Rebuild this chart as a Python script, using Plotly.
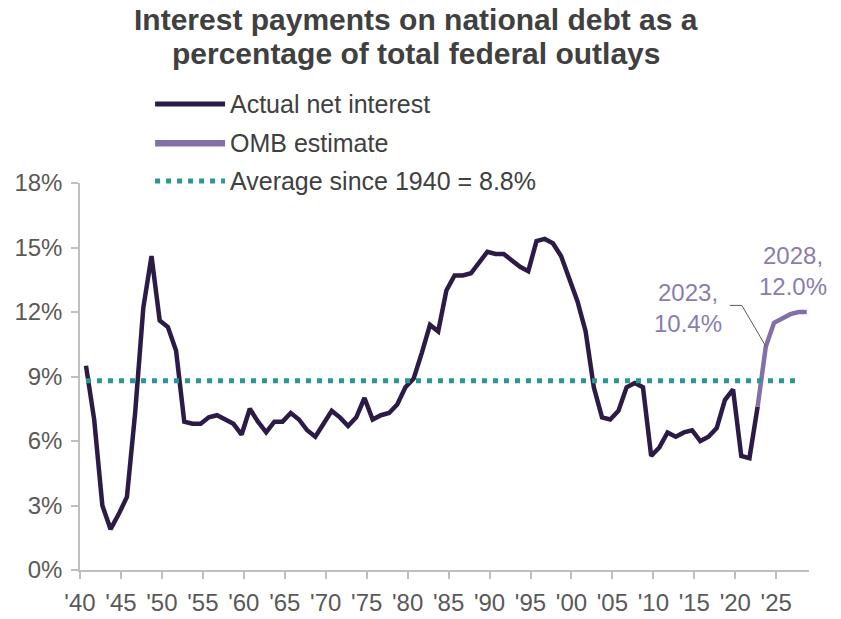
import plotly.graph_objects as go

# Net interest as a share of total federal outlays, fiscal years
actual_years = list(range(1940, 2023))
actual_values = [
    9.5, 7.0, 3.0, 1.9, 2.6, 3.4, 7.3, 12.2, 14.6, 11.6,   # 1940-49
    11.3, 10.2, 6.9, 6.8, 6.8, 7.1, 7.2, 7.0, 6.8, 6.3,    # 1950-59
    7.5, 6.9, 6.4, 6.9, 6.9, 7.3, 7.0, 6.5, 6.2, 6.8,      # 1960-69
    7.4, 7.1, 6.7, 7.1, 8.0, 7.0, 7.2, 7.3, 7.7, 8.5,      # 1970-79
    8.9, 10.1, 11.4, 11.1, 13.0, 13.7, 13.7, 13.8, 14.3, 14.8,  # 1980-89
    14.7, 14.7, 14.4, 14.1, 13.9, 15.3, 15.4, 15.2, 14.6, 13.5,  # 1990-99
    12.5, 11.1, 8.5, 7.1, 7.0, 7.4, 8.5, 8.7, 8.5, 5.3,    # 2000-09
    5.7, 6.4, 6.2, 6.4, 6.5, 6.0, 6.2, 6.6, 7.9, 8.4,      # 2010-19
    5.3, 5.2, 7.6,                                         # 2020-22
]

# OMB projection, joined to the last actual year
estimate_years = [2022, 2023, 2024, 2025, 2026, 2027, 2028]
estimate_values = [7.6, 10.4, 11.5, 11.7, 11.9, 12.0, 12.0]

average_years = [1940, 2027]
average_value = 8.8

tick_years = [1940, 1945, 1950, 1955, 1960, 1965, 1970, 1975, 1980,
              1985, 1990, 1995, 2000, 2005, 2010, 2015, 2020, 2025]
tick_labels = ["'" + str(y)[2:] for y in tick_years]
y_ticks = [0, 3, 6, 9, 12, 15, 18]
y_labels = [f"{v}%" for v in y_ticks]

DARK = "#2b1b46"
PURPLE = "#8470a8"
LABEL = "#8a7cb0"
TEAL = "#2a9891"
AXIS = "#bfbfbf"
TICKTXT = "#595959"
TEXT = "#404040"
FONT = "Arial, Liberation Sans, sans-serif"

fig = go.Figure()

fig.add_trace(go.Scatter(
    x=actual_years, y=actual_values, mode="lines",
    line=dict(color=DARK, width=4.5), showlegend=False, hoverinfo="skip"))
fig.add_trace(go.Scatter(
    x=estimate_years, y=estimate_values, mode="lines",
    line=dict(color=PURPLE, width=4.5), showlegend=False, hoverinfo="skip"))
fig.add_trace(go.Scatter(
    x=average_years, y=[average_value] * len(average_years), mode="lines",
    line=dict(color=TEAL, width=5, dash="5px,6px"),
    showlegend=False, hoverinfo="skip"))

# category-style offset: each year sits in the middle of its slot
x_lo = 1940 - 0.73
x_hi = 2028 + 0.27

fig.update_xaxes(
    range=[x_lo, x_hi], automargin=False,
    tickvals=[y - 0.73 for y in tick_years], ticktext=tick_labels,
    showline=True, linecolor=AXIS, linewidth=1.5,
    ticks="outside", ticklen=7, tickcolor=AXIS, tickwidth=1.5,
    tickfont=dict(family=FONT, size=24, color=TICKTXT),
    ticklabelstandoff=3,
    showgrid=False, zeroline=False)
fig.update_yaxes(
    range=[0, 18], automargin=False,
    tickvals=y_ticks, ticktext=y_labels,
    showline=True, linecolor=AXIS, linewidth=1.5,
    ticks="outside", ticklen=7, tickcolor=AXIS, tickwidth=1.5,
    tickfont=dict(family=FONT, size=24, color=TICKTXT),
    ticklabelstandoff=4,
    showgrid=False, zeroline=False)

annotations = []
shapes = []

# title
annotations.append(dict(
    text="<b>Interest payments on national debt as a</b>",
    xref="paper", yref="paper", x=0.461, y=1.422,
    xanchor="center", yanchor="middle", showarrow=False,
    font=dict(family=FONT, size=30, color=TEXT)))
annotations.append(dict(
    text="<b>percentage of total federal outlays</b>",
    xref="paper", yref="paper", x=0.461, y=1.335,
    xanchor="center", yanchor="middle", showarrow=False,
    font=dict(family=FONT, size=30, color=TEXT)))

# legend
legend_items = [
    ("Actual net interest", DARK, 5, "solid", 1.204),
    ("OMB estimate", PURPLE, 6.5, "solid", 1.103),
    ("Average since 1940 = 8.8%", TEAL, 5, "5px,6px", 1.005),
]
for label, color, width, dash, ypos in legend_items:
    shapes.append(dict(
        type="line", xref="paper", yref="paper",
        x0=0.103, x1=0.199, y0=ypos, y1=ypos,
        line=dict(color=color, width=width, dash=dash)))
    annotations.append(dict(
        text=label, xref="paper", yref="paper", x=0.203, y=ypos,
        xanchor="left", yanchor="middle", showarrow=False,
        font=dict(family=FONT, size=25, color=TEXT)))

# value callouts
annotations.append(dict(
    text="2023,<br>10.4%", x=estimate_years[1], y=estimate_values[1],
    xshift=-78, yshift=38, xanchor="center", yanchor="middle",
    showarrow=False, align="center",
    font=dict(family=FONT, size=24, color=LABEL)))
annotations.append(dict(
    text="2028,<br>12.0%", x=estimate_years[-1], y=estimate_values[-1],
    xshift=-14, yshift=41, xanchor="center", yanchor="middle",
    showarrow=False, align="center",
    font=dict(family=FONT, size=24, color=LABEL)))

# leader line for the 2023 callout
for (x0, y0, x1, y1) in [(-36, 41, -24, 41), (-24, 41, 0, 0)]:
    shapes.append(dict(
        type="line", xref="x", yref="y",
        xsizemode="pixel", ysizemode="pixel",
        xanchor=estimate_years[1], yanchor=estimate_values[1],
        x0=x0, y0=y0, x1=x1, y1=y1,
        line=dict(color="#595959", width=1)))

fig.update_layout(
    width=841, height=619,
    margin=dict(l=80, r=32, t=183, b=49),
    paper_bgcolor="white", plot_bgcolor="white",
    showlegend=False,
    annotations=annotations, shapes=shapes)

fig.write_html("out.html")
